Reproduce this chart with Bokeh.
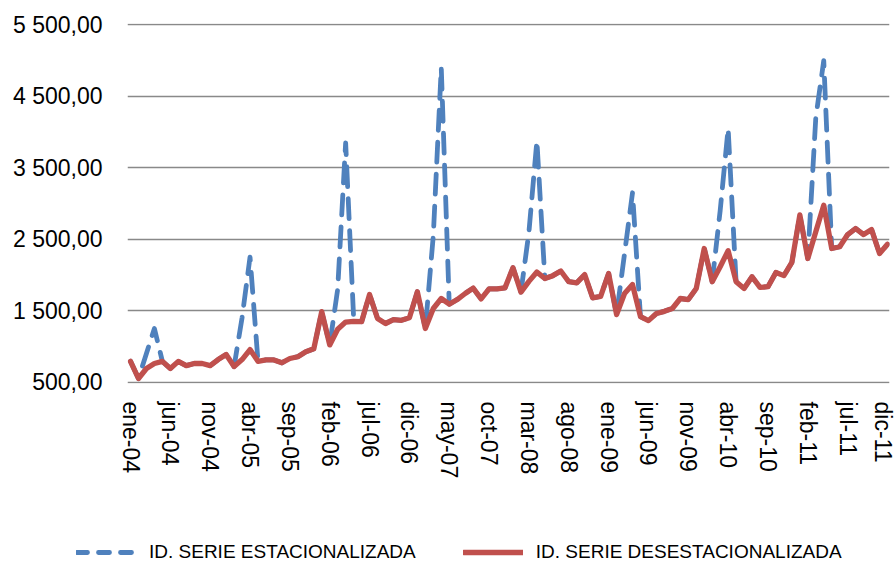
from bokeh.plotting import figure
from bokeh.models import Range1d, FixedTicker, Legend, LegendItem, ColumnDataSource
from bokeh.embed import file_html
from bokeh.resources import INLINE

# ---- data -------------------------------------------------------------
x_tick_pos = [0, 5, 10, 15, 20, 25, 30, 35, 40, 45, 50, 55, 60, 65, 70, 75, 80, 85, 90, 95]
x_tick_labels = ["ene-04", "jun-04", "nov-04", "abr-05", "sep-05", "feb-06", "jul-06",
                 "dic-06", "may-07", "oct-07", "mar-08", "ago-08", "ene-09", "jun-09",
                 "nov-09", "abr-10", "sep-10", "feb-11", "jul-11", "dic-11"]
y_ticks = [500, 1500, 2500, 3500, 4500, 5500]
y_tick_labels = ["500,00", "1 500,00", "2 500,00", "3 500,00", "4 500,00", "5 500,00"]

serie_desestacionalizada = [
    790, 550, 690, 760, 790, 690, 790, 730, 760, 760, 730, 815,
    885, 717, 815, 955, 790, 810, 810, 770, 830, 855, 925, 965,
    1487, 1020, 1240, 1340, 1350, 1345, 1725, 1390, 1320, 1375, 1365, 1400,
    1765, 1250, 1530, 1670, 1590, 1655, 1740, 1815, 1665, 1805, 1805, 1820,
    2100, 1760, 1910, 2040, 1950, 1990, 2055, 1905, 1890, 2005, 1680, 1700,
    2020, 1445, 1740, 1865, 1415, 1360, 1460, 1490, 1530, 1670, 1655, 1810,
    2370, 1905, 2115, 2340, 1905, 1810, 1975, 1825, 1835, 2035, 1990, 2175,
    2840, 2230, 2605, 2975, 2370, 2395, 2565, 2650, 2565, 2635, 2300, 2430,
]
serie_estacionalizada = [
    790, 550, 900, 1250, 790, 690, 790, 730, 760, 760, 730, 815,
    885, 717, 1400, 2250, 790, 810, 810, 770, 830, 855, 925, 965,
    1487, 1020, 1800, 3850, 1400, 1345, 1725, 1390, 1320, 1375, 1365, 1400,
    1765, 1250, 2550, 4900, 1590, 1655, 1740, 1815, 1665, 1805, 1805, 1820,
    2100, 1760, 2600, 3880, 1950, 1990, 2055, 1905, 1890, 2005, 1680, 1700,
    2020, 1445, 2300, 3150, 1415, 1360, 1460, 1490, 1530, 1670, 1655, 1810,
    2370, 1905, 2900, 4050, 1905, 1810, 1975, 1825, 1835, 2035, 1990, 2175,
    2840, 2230, 4200, 5000, 2370, 2395, 2565, 2650, 2565, 2635, 2300, 2430,
]
month_index = list(range(len(serie_desestacionalizada)))

BLUE = "#4F81BD"
RED = "#C0504D"
FONT = "Liberation Sans"

src = ColumnDataSource(dict(x=month_index, est=serie_estacionalizada,
                            des=serie_desestacionalizada))

# ---- main chart ---------------------------------------------------------
p = figure(width=895, height=516, output_backend="svg", toolbar_location=None,
           x_range=Range1d(-0.3765, 95.251), y_range=Range1d(480, 5520),
           min_border_left=127, min_border_right=6, min_border_top=23,
           min_border_bottom=133)
p.outline_line_color = None
p.background_fill_color = "white"
p.border_fill_color = "white"

p.xgrid.visible = False
p.ygrid.ticker = FixedTicker(ticks=y_ticks)
p.ygrid.grid_line_color = "#898989"
p.ygrid.grid_line_width = 1.6

p.xaxis.ticker = FixedTicker(ticks=x_tick_pos)
p.xaxis.major_label_overrides = dict(zip(x_tick_pos, x_tick_labels))
p.xaxis.major_label_orientation = "vertical"
p.xaxis.axis_line_color = None
p.xaxis.major_tick_line_color = None
p.xaxis.minor_tick_line_color = None
p.xaxis.major_tick_out = 0
p.xaxis.major_tick_in = 0
p.xaxis.major_label_standoff = 18
p.xaxis.major_label_text_font = FONT
p.xaxis.major_label_text_font_size = "23px"
p.xaxis.major_label_text_color = "#000000"

p.yaxis.ticker = FixedTicker(ticks=y_ticks)
p.yaxis.major_label_overrides = dict(zip(y_ticks, y_tick_labels))
p.yaxis.axis_line_color = None
p.yaxis.major_tick_line_color = None
p.yaxis.minor_tick_line_color = None
p.yaxis.major_tick_out = 0
p.yaxis.major_tick_in = 0
p.yaxis.major_label_standoff = 25
p.yaxis.major_label_text_font = FONT
p.yaxis.major_label_text_font_size = "23px"
p.yaxis.major_label_text_color = "#000000"

p.line("x", "est", source=src, line_color=BLUE, line_width=4.8,
       line_dash="20 12", line_cap="round", line_join="round")
p.line("x", "des", source=src, line_color=RED, line_width=5.3,
       line_cap="round", line_join="round")

# ---- legend strip (separate root under the chart) -----------------------
lg = figure(width=895, height=48, output_backend="svg", toolbar_location=None,
            x_range=Range1d(0, 1), y_range=Range1d(0, 1),
            min_border_left=0, min_border_right=0, min_border_top=0,
            min_border_bottom=0)
lg.axis.visible = False
lg.grid.visible = False
lg.outline_line_color = None
lg.border_fill_color = "white"
lg.background_fill_color = "white"

leg_blue = lg.line("x", "est", source=src, line_color=BLUE, line_width=4.8,
                   line_dash="11 11", line_cap="round", visible=False)
leg_red = lg.line("x", "des", source=src, line_color=RED, line_width=5.3,
                  line_cap="round", visible=False)

legend = Legend(items=[LegendItem(label="ID. SERIE ESTACIONALIZADA", renderers=[leg_blue]),
                       LegendItem(label="ID. SERIE DESESTACIONALIZADA", renderers=[leg_red])],
                location=(76, 1), orientation="horizontal",
                padding=0, margin=0, spacing=47,
                glyph_width=60, glyph_height=22, label_height=22,
                label_standoff=13,
                label_text_font=FONT, label_text_font_size="19px",
                label_text_color="#000000",
                inactive_fill_alpha=0,
                border_line_color=None, background_fill_alpha=0)
lg.add_layout(legend, "center")

open("out.html", "w").write(file_html([p, lg], INLINE))
